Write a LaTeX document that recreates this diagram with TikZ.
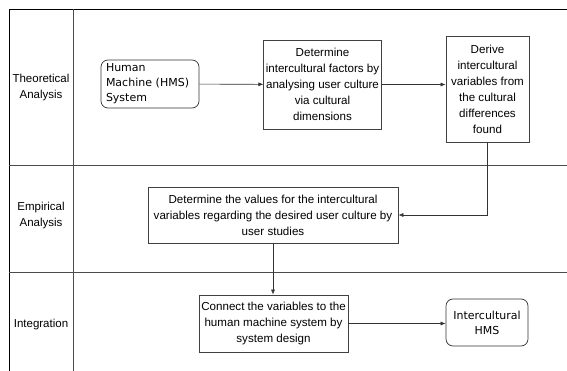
\documentclass[tikz,border=0pt]{standalone}
\usepackage{fontspec}
\setmainfont{Liberation Sans}
\newfontfamily\roundfont{DejaVu Sans}
\usepackage{tikz}
\usetikzlibrary{arrows.meta, positioning}

\tikzset{
  procbox/.style={draw=black!75, line width=0.7pt, rectangle, align=center, inner sep=2pt,
                  font=\fontsize{11.6}{16}\selectfont},
  endbox/.style={draw=black!80, line width=0.7pt, rectangle, rounded corners=7pt, inner sep=2pt,
                 font=\roundfont\fontsize{11}{15}\selectfont},
  lanetext/.style={align=center, font=\fontsize{11.5}{16}\selectfont},
  laneline/.style={draw=black!70, line width=0.8pt},
  flow/.style={draw=black!80, line width=0.6pt, -{Latex[length=5pt,width=4pt]}}
}

\begin{document}
\begin{tikzpicture}[x=1pt, y=-1pt]
    \useasboundingbox (0,0) rectangle (567,371);

    % swim lanes
    \draw[black, line width=0.9pt] (9,371) -- (9,9) -- (567,9);
    \draw[laneline] (73,9) -- (73,371);
    \draw[laneline] (9,165) -- (567,165);
    \draw[laneline] (9,272) -- (567,272);

    \node[lanetext] (theo) at (41,88) {Theoretical\\Analysis};
    \node[lanetext] (emp) at (41,216) {Empirical\\Analysis};
    \node[lanetext] (integ) at (41,325) {Integration};

    % process
    \node[endbox, align=left, text width=88pt, inner xsep=5pt, minimum height=48pt] (hms) at (150,84)
        {Human\\Machine (HMS)\\System};
    \node[procbox, minimum width=117pt, minimum height=89pt] (factors) at (322.5,84.5)
        {Determine\\intercultural factors by\\analysing user culture\\via cultural\\dimensions};
    \node[procbox, minimum width=83pt, minimum height=106pt] (derive) at (487.5,89)
        {Derive\\intercultural\\variables from\\the cultural\\differences\\found};
    \node[procbox, minimum width=250pt, minimum height=56pt] (values) at (273,215)
        {Determine the values for the intercultural\\variables regarding the desired user culture by\\user studies};
    \node[procbox, minimum width=149pt, minimum height=57pt] (connect) at (273.5,323.5)
        {Connect the variables to the\\human machine system by\\system design};
    \node[endbox, align=center, minimum width=82pt, minimum height=47pt] (ihms) at (487,322.5)
        {Intercultural\\HMS};

    \draw[flow] (hms) -- (factors);
    \draw[flow] (factors.east) -- (factors.east -| derive.west);
    \draw[flow] (derive.south) |- (values.east);
    \draw[flow] (values.south) -- (values.south |- connect.north);
    \draw[flow] (connect.east) -- (connect.east -| ihms.west);
\end{tikzpicture}
\end{document}
